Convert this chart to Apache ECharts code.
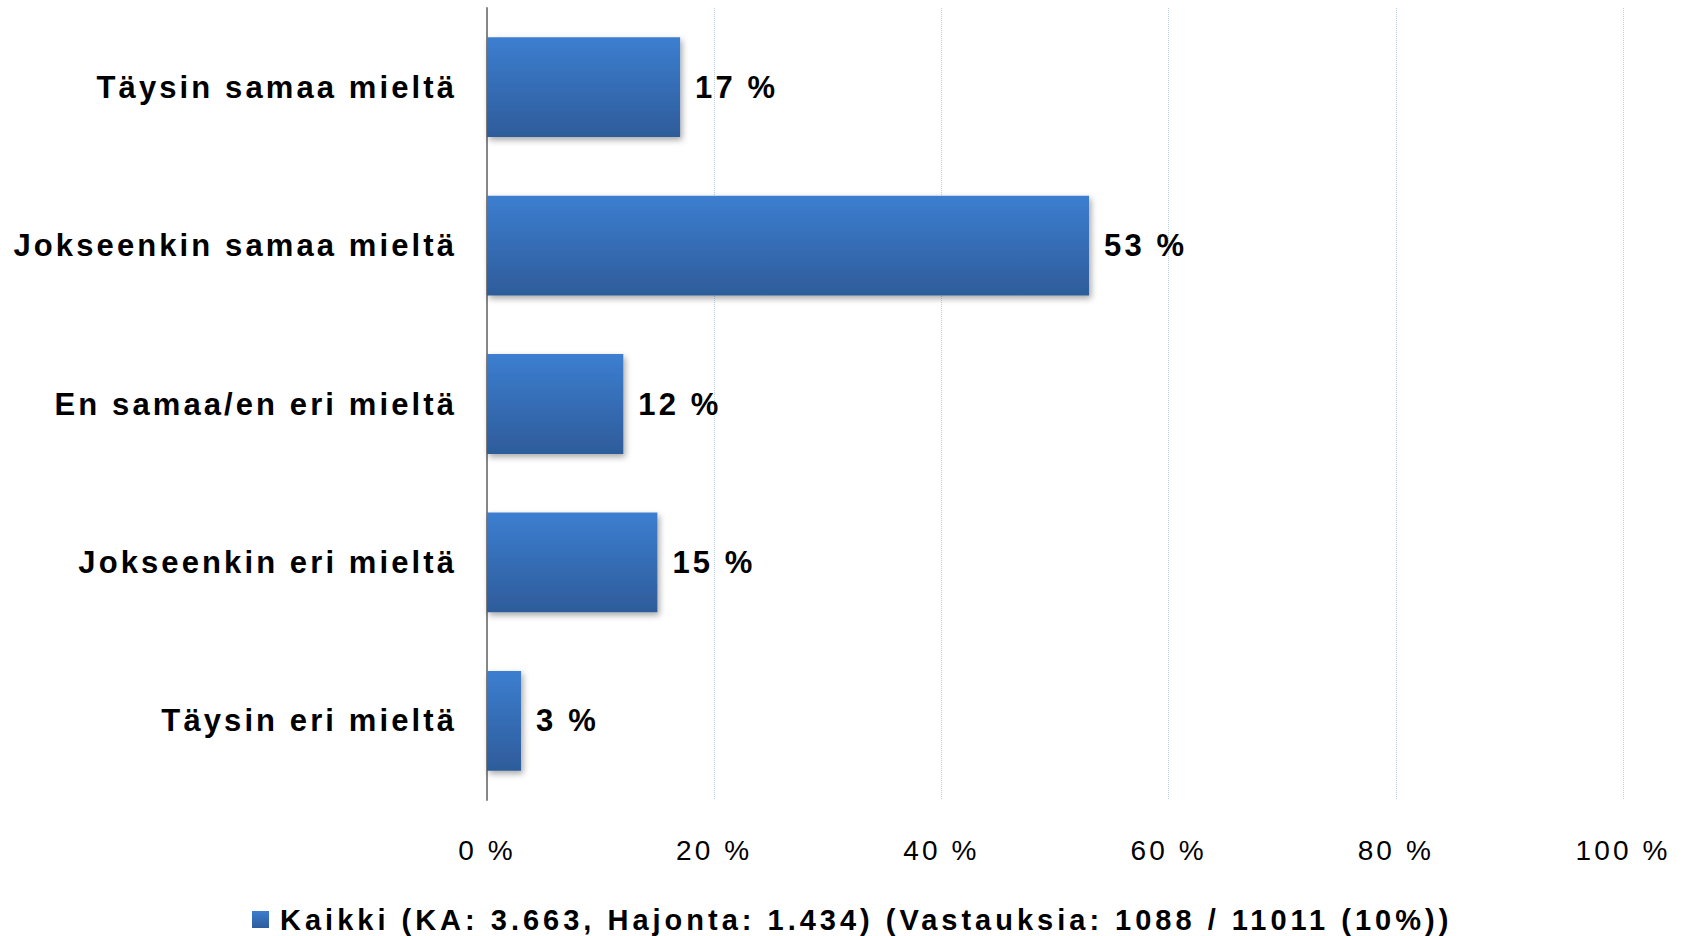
<!DOCTYPE html>
<html>
<head>
<meta charset="utf-8">
<script src="https://cdn.jsdelivr.net/npm/echarts@6/dist/echarts.min.js"></script>
<style>
  html, body { margin: 0; padding: 0; background: #fff; }
  #chart { width: 1692px; height: 936px; }
  /* alkuperäisessä kaaviossa väljä merkkiväli */
  #chart text { letter-spacing: 3.1px; }
  /* selite vielä väljemmin */
  #chart text[style*="29px"], #chart text[font-size="29"], #chart text[font-size="29px"] { letter-spacing: 4px; }
</style>
</head>
<body>
<div id="chart"></div>
<script>
// vastausjakauma, arvot prosentteina
const categories = ['Täysin samaa mieltä', 'Jokseenkin samaa mieltä', 'En samaa/en eri mieltä', 'Jokseenkin eri mieltä', 'Täysin eri mieltä']
const values = [17, 53, 12, 15, 3]
const seriesName = 'Kaikki (KA: 3.663, Hajonta: 1.434) (Vastauksia: 1088 / 11011 (10%))'
const xTicks = [0, 20, 40, 60, 80, 100]

const chart = echarts.init(document.getElementById('chart'), null, { renderer: 'svg' })

const font = '"Liberation Sans", Arial, sans-serif'
const barColor = new echarts.graphic.LinearGradient(0, 0, 0, 1, [
  { offset: 0, color: '#3C7ED0' },
  { offset: 1, color: '#2E5C9A' }
])

chart.setOption({
  animation: false,
  grid: { left: 487, right: 69, top: 8, bottom: 136, containLabel: false },
  legend: {
    left: 247,
    top: 900,
    itemWidth: 17,
    itemHeight: 17,
    textStyle: {
      fontFamily: font,
      fontWeight: 'bold',
      fontSize: 29,
      color: '#000',
      padding: [0, 0, 0, 6]
    },
    data: [{ name: seriesName, icon: 'rect', itemStyle: { color: barColor } }]
  },
  xAxis: {
    type: 'value',
    min: xTicks[0],
    max: xTicks[xTicks.length - 1],
    interval: 20,
    axisLine: { show: false },
    axisTick: { show: false },
    axisLabel: {
      margin: 36,
      fontFamily: font,
      fontSize: 28,
      color: '#000',
      formatter: v => v + ' %'
    },
    splitLine: {
      show: true,
      lineStyle: { color: '#B9CCE8', type: 'dotted', width: 1 }
    }
  },
  yAxis: {
    type: 'category',
    inverse: true,
    data: categories,
    axisLine: { show: true, lineStyle: { color: '#868686', width: 2 } },
    axisTick: { show: false },
    axisLabel: {
      margin: 30,
      fontFamily: font,
      fontWeight: 'bold',
      fontSize: 31,
      color: '#000'
    }
  },
  series: [
    {
      name: seriesName,
      type: 'bar',
      data: values,
      barCategoryGap: '37%',
      itemStyle: {
        color: barColor,
        shadowColor: 'rgba(0,0,0,0.35)',
        shadowBlur: 6,
        shadowOffsetX: 2,
        shadowOffsetY: 3
      },
      label: {
        show: true,
        position: 'right',
        distance: 15,
        fontFamily: font,
        fontWeight: 'bold',
        fontSize: 31,
        color: '#000',
        formatter: p => p.value + ' %'
      }
    }
  ]
})
</script>
</body>
</html>
